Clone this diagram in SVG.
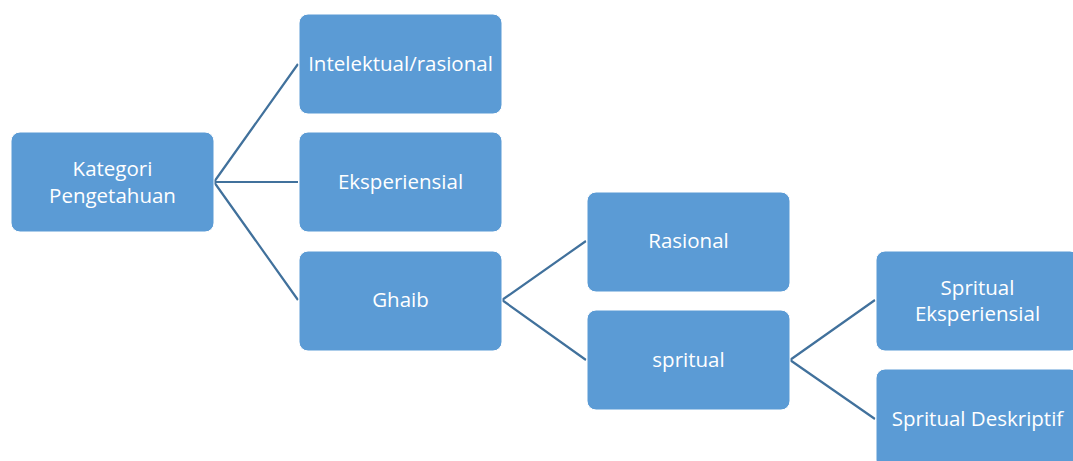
<svg xmlns="http://www.w3.org/2000/svg" width="1073" height="461" viewBox="0 0 1073 461">
<style>
.box{fill:#5B9BD5;stroke:#ffffff;stroke-width:1}
.t{font-family:"Open Sans","Noto Sans",sans-serif;font-size:20.5px;fill:#ffffff;text-anchor:middle}
.c{stroke:#41719C;stroke-width:2.2;fill:none}
</style>
<rect width="1073" height="461" fill="#ffffff"/>
<g id="connectors">
<path class="c" d="M214,182 L298,64 M214,182 L298,182 M214,182 L298,300"/>
<path class="c" d="M502,300 L586,241 M502,300 L586,360"/>
<path class="c" d="M790,360 L875,300 M790,360 L875,419"/>
</g>
<g id="kategori"><rect class="box" x="11" y="132" width="203" height="100" rx="9"/><text class="t" x="112.5" y="176">Kategori</text><text class="t" x="112.5" y="203">Pengetahuan</text></g>
<g id="intelektual"><rect class="box" x="299" y="14" width="203" height="100" rx="9"/><text class="t" x="400.5" y="71">Intelektual/rasional</text></g>
<g id="eksperiensial"><rect class="box" x="299" y="132" width="203" height="100" rx="9"/><text class="t" x="400.5" y="189">Eksperiensial</text></g>
<g id="ghaib"><rect class="box" x="299" y="251" width="203" height="100" rx="9"/><text class="t" x="400.5" y="307">Ghaib</text></g>
<g id="rasional"><rect class="box" x="587" y="192" width="203" height="100" rx="9"/><text class="t" x="688.5" y="248">Rasional</text></g>
<g id="spritual"><rect class="box" x="587" y="310" width="203" height="100" rx="9"/><text class="t" x="688.5" y="367">spritual</text></g>
<g id="spritual-eksperiensial"><rect class="box" x="876" y="251" width="203" height="100" rx="9"/><text class="t" x="977.5" y="295">Spritual</text><text class="t" x="977.5" y="321">Eksperiensial</text></g>
<g id="spritual-deskriptif"><rect class="box" x="876" y="369" width="203" height="100" rx="9"/><text class="t" x="977.5" y="426">Spritual Deskriptif</text></g>
</svg>
